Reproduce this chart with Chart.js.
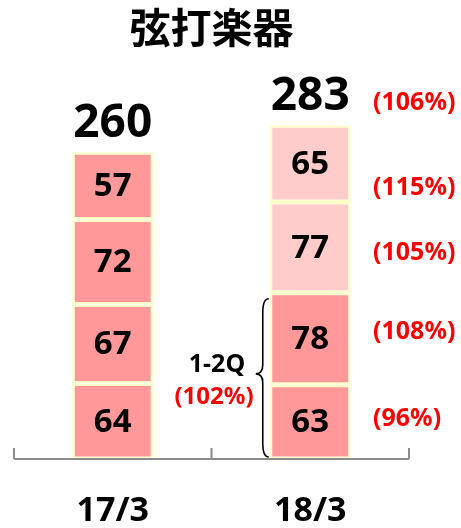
<!DOCTYPE html>
<html>
<head>
<meta charset="utf-8">
<script src="https://cdn.jsdelivr.net/npm/chart.js@4"></script>
<style>
  html, body { margin: 0; padding: 0; background: #fff; }
  #wrap { width: 461px; height: 528px; }
</style>
</head>
<body>
<div id="wrap"><canvas id="chart"></canvas></div>
<script>
// Data
const categories = ['17/3', '18/3'];
const q1 = [64, 63];
const q2 = [67, 78];
const q3 = [72, 77];
const q4 = [57, 65];
const totals = [260, 283];
// year-over-year labels for 18/3 (top to bottom: total, 4Q, 3Q, 2Q, 1Q)
const pctLabels = ['(106%)', '(115%)', '(105%)', '(108%)', '(96%)'];
const halfLabel = ['1-2Q', '(102%)'];

const DARK = '#ff9999';
const LIGHT = '#ffcccc';
const EDGE = '#ffffcc';
const LATIN = "'Noto Sans', 'Noto Sans CJK JP', sans-serif";

function seg(label, data, colors) {
  return {
    label: label,
    data: data,
    backgroundColor: colors,
    borderColor: EDGE,
    borderWidth: 2.5,
    borderSkipped: false,
    barPercentage: 0.41,
    categoryPercentage: 1.0
  };
}

// Numbers inside segments, totals above bars, notes at the right
const labelPlugin = {
  id: 'labels',
  afterDatasetsDraw(chart) {
    const ctx = chart.ctx;
    const y = chart.scales.y;
    ctx.save();
    ctx.textAlign = 'center';
    ctx.textBaseline = 'middle';
    ctx.fillStyle = '#000';
    ctx.font = 'bold 33px ' + LATIN;
    chart.data.datasets.forEach((ds, di) => {
      chart.getDatasetMeta(di).data.forEach((bar, i) => {
        const mid = (bar.y + bar.base) / 2;
        ctx.fillText(String(ds.data[i]), bar.x, mid + 1);
      });
    });
    // totals
    ctx.font = 'bold 46px ' + LATIN;
    const top = chart.getDatasetMeta(3).data;
    top.forEach((bar, i) => {
      ctx.fillText(String(totals[i]), bar.x, bar.y - 28);
    });

    // percentage notes for 18/3
    const anchors = [303, 231, 176, 109, 35];
    ctx.textAlign = 'left';
    ctx.fillStyle = '#ff0000';
    ctx.font = 'bold 25px ' + LATIN;
    pctLabels.forEach((t, k) => {
      ctx.fillText(t, 373, y.getPixelForValue(anchors[k]) + 1);
    });

    // brace for first half of 18/3
    const b = chart.getDatasetMeta(0).data[1];
    const xr = b.x - b.width / 2 - 1;
    const xm = xr - 6;
    const xl = xr - 13;
    const y0 = y.getPixelForValue(q1[1] + q2[1]) + 6;
    const y1 = y.getPixelForValue(0) - 2;
    const ym = (y0 + y1) / 2 - 4;
    ctx.strokeStyle = '#000';
    ctx.lineWidth = 1.6;
    ctx.beginPath();
    ctx.moveTo(xr, y0);
    ctx.quadraticCurveTo(xm, y0, xm, y0 + 14);
    ctx.lineTo(xm, ym - 9);
    ctx.quadraticCurveTo(xm, ym, xl, ym);
    ctx.quadraticCurveTo(xm, ym, xm, ym + 9);
    ctx.lineTo(xm, y1 - 14);
    ctx.quadraticCurveTo(xm, y1, xr, y1);
    ctx.stroke();

    ctx.textAlign = 'center';
    ctx.fillStyle = '#000';
    ctx.font = 'bold 25px ' + LATIN;
    ctx.fillText(halfLabel[0], 217, ym - 9);
    ctx.fillStyle = '#ff0000';
    ctx.font = 'bold 24px ' + LATIN;
    ctx.fillText(halfLabel[1], 214, ym + 23);
    ctx.restore();
  }
};

// Bottom axis line with upward ticks at category boundaries
const axisPlugin = {
  id: 'axisLine',
  afterDraw(chart) {
    const ctx = chart.ctx;
    const x = chart.scales.x;
    const yb = chart.scales.y.getPixelForValue(0);
    const half = (x.getPixelForValue(1) - x.getPixelForValue(0)) / 2;
    const ticks = [x.getPixelForValue(0) - half, x.getPixelForValue(0) + half, x.getPixelForValue(1) + half];
    ctx.save();
    ctx.strokeStyle = '#8c8c8c';
    ctx.lineWidth = 2;
    ctx.beginPath();
    ctx.moveTo(ticks[0], yb);
    ctx.lineTo(ticks[2], yb);
    ticks.forEach(t => {
      ctx.moveTo(t, yb);
      ctx.lineTo(t, yb - 11);
    });
    ctx.stroke();
    ctx.restore();
  }
};

new Chart(document.getElementById('chart'), {
  type: 'bar',
  data: {
    labels: categories,
    datasets: [
      seg('1Q', q1, [DARK, DARK]),
      seg('2Q', q2, [DARK, DARK]),
      seg('3Q', q3, [DARK, LIGHT]),
      seg('4Q', q4, [DARK, LIGHT])
    ]
  },
  options: {
    responsive: true,
    maintainAspectRatio: false,
    animation: false,
    layout: { padding: { left: 14, right: 52, top: 0, bottom: 0 } },
    plugins: {
      legend: { display: false },
      tooltip: { enabled: false },
      title: {
        display: true,
        text: '弦打楽器',
        color: '#000',
        font: { family: "'Noto Sans CJK JP', sans-serif", size: 41, weight: 'bold' },
        padding: { top: 3, bottom: 53 }
      }
    },
    scales: {
      x: {
        stacked: true,
        grid: { display: false, drawTicks: false, tickLength: 0 },
        border: { display: false },
        afterFit(scale) { scale.height = 69; },
        ticks: {
          color: '#000',
          padding: 32,
          font: { family: LATIN, size: 34, weight: 'bold' }
        }
      },
      y: {
        stacked: true,
        display: false,
        min: 0,
        max: 300
      }
    }
  },
  plugins: [labelPlugin, axisPlugin]
});
</script>
</body>
</html>
